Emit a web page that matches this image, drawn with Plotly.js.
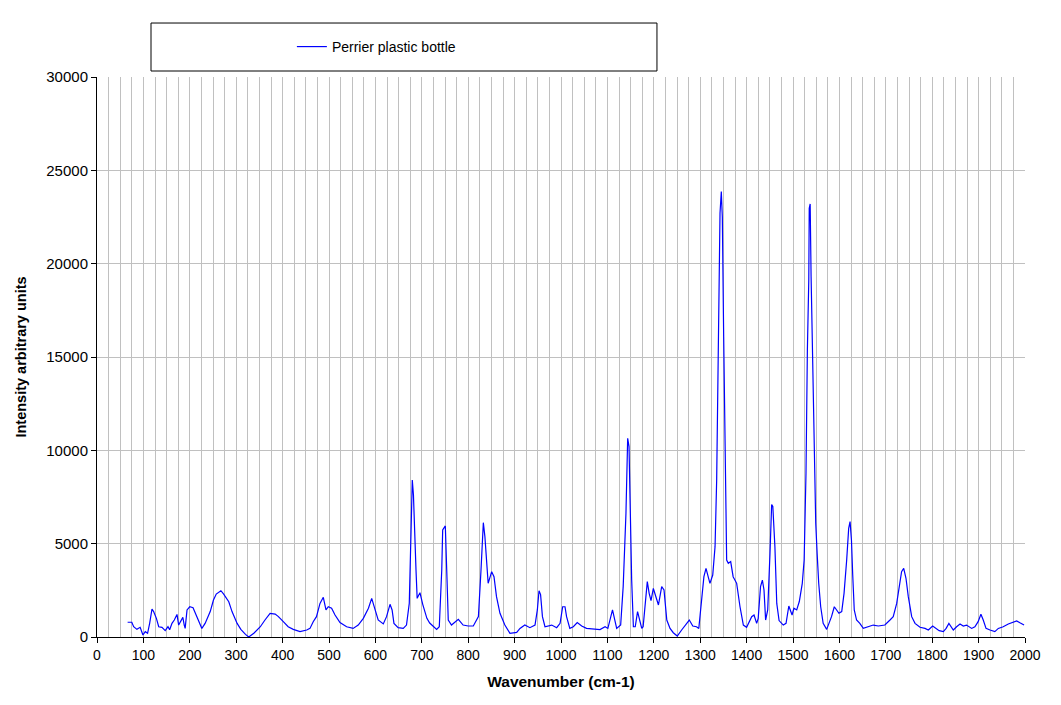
<!DOCTYPE html>
<html>
<head>
<meta charset="utf-8">
<script src="https://cdn.plot.ly/plotly-3.0.1.min.js"></script>
<style>
  html, body { margin: 0; padding: 0; background: #fff; }
  #chart { width: 1061px; height: 705px; }
</style>
</head>
<body>
<div id="chart"></div>
<script>
const seriesName = "Perrier plastic bottle";
const wavenumber = [
  66, 75, 79, 86, 93, 99, 104, 109, 113.5, 118.5, 122, 128, 133, 140, 147, 153, 156.6, 161.6, 166.6, 172.4,
  176, 181, 185, 188, 190, 194, 200, 207, 212, 219, 226, 233, 244, 251, 257, 267, 273, 284, 291, 302,
  310, 320, 327, 338, 352, 362, 373, 384, 391, 401.5, 412, 423, 437.5, 452, 459, 466, 473, 480.6, 487.7, 493.5,
  498.5, 505.6, 513, 523.7, 538, 552, 563, 574, 585, 592, 599, 606, 617, 624, 631.5, 636, 640, 649, 660, 667,
  673, 676, 679.5, 682, 684, 687.5, 690, 696, 702, 707, 711, 717, 732, 737.7, 743, 745, 750.7, 753.7, 757, 764,
  778.7, 789, 800, 811, 822, 827.6, 832.6, 836, 840, 843, 850.6, 855.6, 861, 868.5, 879, 890, 904.5, 911.6, 922, 933,
  944, 949, 952.6, 956, 960, 965.5, 980, 990.7, 998, 1003.6, 1008.6, 1012, 1019, 1026.5, 1035, 1044.6, 1055, 1069.6, 1084, 1095,
  1101, 1111, 1120, 1128.6, 1134, 1140, 1143.7, 1146.6, 1149.4, 1152.3, 1156, 1160, 1165, 1168, 1174, 1177, 1182.5, 1186, 1190, 1194,
  1199, 1205, 1210, 1217, 1222, 1228, 1235, 1242, 1250.6, 1260, 1272, 1276.5, 1284, 1292, 1297, 1303, 1308, 1312.5, 1317.5, 1321,
  1327, 1332, 1335.5, 1339, 1342.7, 1345.5, 1347.7, 1350.6, 1352.8, 1355, 1357, 1360.6, 1365.7, 1371, 1378.6, 1385.8, 1393, 1400, 1411, 1416,
  1421.7, 1425, 1430, 1434, 1437.5, 1441, 1445.5, 1450.4, 1454, 1456.5, 1461, 1465, 1470, 1479, 1485, 1491, 1494, 1498, 1502, 1508,
  1513.6, 1520, 1524, 1528, 1531, 1534, 1535, 1537, 1539, 1541.6, 1543.8, 1546, 1549, 1552, 1555.4, 1559.7, 1565, 1572.6, 1578, 1583,
  1589, 1594, 1599, 1605, 1610, 1615.7, 1620, 1623, 1626, 1628.7, 1632, 1637, 1644, 1651.5, 1662, 1673, 1684, 1698, 1709, 1716,
  1723.5, 1729, 1734, 1738.6, 1743.5, 1748.5, 1755.8, 1763, 1773.7, 1784.5, 1791.7, 1801, 1808, 1815, 1824, 1830, 1836, 1845.5, 1852.6, 1860,
  1867, 1874, 1885, 1892, 1899, 1905, 1910, 1916, 1924.6, 1935, 1942.5, 1953, 1964, 1975, 1982, 1989, 1998
];
const intensity = [
  790, 790, 550, 410, 520, 107, 285, 200, 730, 1500, 1360, 1000, 550, 520, 340, 550, 390, 730, 910, 1210,
  640, 910, 1050, 640, 460, 1450, 1620, 1570, 1270, 820, 460, 730, 1360, 1980, 2300, 2480, 2300, 1890, 1360, 730,
  410, 140, 0, 200, 550, 910, 1270, 1230, 1090, 820, 550, 410, 285, 375, 460, 820, 1090, 1800, 2125, 1450,
  1620, 1540, 1180, 770, 550, 460, 640, 1000, 1540, 2070, 1450, 910, 700, 1090, 1750, 1450, 730, 500, 460, 640,
  1800, 5730, 8410, 7600, 5730, 3590, 2070, 2375, 1750, 1270, 1000, 750, 410, 550, 3590, 5730, 5950, 3590, 910, 640,
  950, 640, 590, 590, 1090, 3590, 6125, 5375, 3590, 2875, 3500, 3230, 2160, 1270, 640, 200, 250, 460, 640, 500,
  640, 1450, 2480, 2270, 1090, 550, 640, 500, 730, 1620, 1620, 1090, 460, 550, 770, 590, 460, 410, 400, 550,
  460, 1450, 460, 640, 2700, 6630, 10645, 10200, 6630, 3050, 550, 550, 1360, 1090, 460, 550, 2160, 2965, 2340, 1950,
  2600, 2050, 1715, 2700, 2520, 910, 460, 230, 50, 375, 730, 910, 590, 550, 460, 2160, 3230, 3680, 3145, 2875,
  3320, 4840, 8410, 14300, 22700, 23860, 22500, 16090, 12340, 6630, 4125, 3950, 4040, 3230, 2875, 1620, 640, 520, 1090, 1180,
  730, 1000, 2700, 3050, 2520, 910, 1450, 4480, 7100, 7000, 4840, 1800, 880, 640, 730, 1660, 1450, 1180, 1540, 1450,
  1900, 2875, 4125, 8770, 15375, 19125, 22960, 23200, 19300, 15550, 11625, 9125, 6090, 4480, 2875, 1620, 730, 410, 730, 1090,
  1620, 1450, 1270, 1360, 2340, 4125, 5820, 6180, 5180, 3320, 1450, 910, 730, 460, 550, 640, 590, 640, 910, 1090,
  1800, 2700, 3500, 3680, 3145, 2160, 1090, 730, 520, 460, 375, 590, 460, 340, 285, 460, 730, 375, 550, 700,
  590, 640, 460, 550, 820, 1215, 910, 460, 375, 285, 460, 550, 700, 820, 860, 760, 640
];
const xTitle = "Wavenumber (cm-1)";
const yTitle = "Intensity arbitrary units";

const fontFam = '"Liberation Sans", Arial, sans-serif';
const gridCol = '#c0c0c0';

const trace = {
  x: wavenumber,
  y: intensity,
  type: 'scatter',
  mode: 'lines',
  name: seriesName,
  line: { color: '#0000ff', width: 1.2 },
  showlegend: true
};

const layout = {
  width: 1061,
  height: 705,
  margin: { l: 97, r: 36, t: 77, b: 68, pad: 0 },
  paper_bgcolor: '#ffffff',
  plot_bgcolor: '#ffffff',
  font: { family: fontFam, size: 14, color: '#000000' },
  showlegend: true,
  legend: {
    x: 0.21, xanchor: 'left',
    y: 1.0536, yanchor: 'middle',
    bgcolor: 'rgba(0,0,0,0)',
    borderwidth: 0,
    font: { family: fontFam, size: 14, color: '#000000' },
    itemwidth: 30
  },
  shapes: [{
    type: 'rect', xref: 'paper', yref: 'paper',
    x0: 0.0582, x1: 0.6034, y0: 1.0107, y1: 1.0964,
    line: { color: '#000000', width: 1 },
    fillcolor: 'rgba(0,0,0,0)'
  }],
  xaxis: {
    range: [0, 2000],
    dtick: 100,
    tick0: 0,
    showgrid: true,
    gridcolor: gridCol,
    gridwidth: 1,
    minor: { dtick: 25, tick0: 0, showgrid: true, gridcolor: gridCol, gridwidth: 1, ticks: '' },
    zeroline: false,
    showline: true,
    linecolor: '#000000',
    linewidth: 1,
    ticks: 'outside',
    ticklen: 5,
    tickcolor: '#000000',
    tickfont: { family: fontFam, size: 14, color: '#000000' },
    title: { text: xTitle, font: { family: fontFam, size: 15.5, color: '#000000', weight: 'bold' }, standoff: 14 },
    fixedrange: true
  },
  yaxis: {
    range: [0, 30000],
    dtick: 5000,
    tick0: 0,
    tickformat: 'd',
    showgrid: true,
    gridcolor: gridCol,
    gridwidth: 1,
    zeroline: false,
    showline: true,
    linecolor: '#000000',
    linewidth: 1,
    ticks: 'outside',
    ticklen: 5,
    tickcolor: '#000000',
    tickfont: { family: fontFam, size: 15, color: '#000000' },
    title: { text: yTitle, font: { family: fontFam, size: 14.5, color: '#000000', weight: 'bold' }, standoff: 16 },
    fixedrange: true
  }
};

Plotly.newPlot('chart', [trace], layout, { displayModeBar: false, staticPlot: true });
</script>
</body>
</html>
